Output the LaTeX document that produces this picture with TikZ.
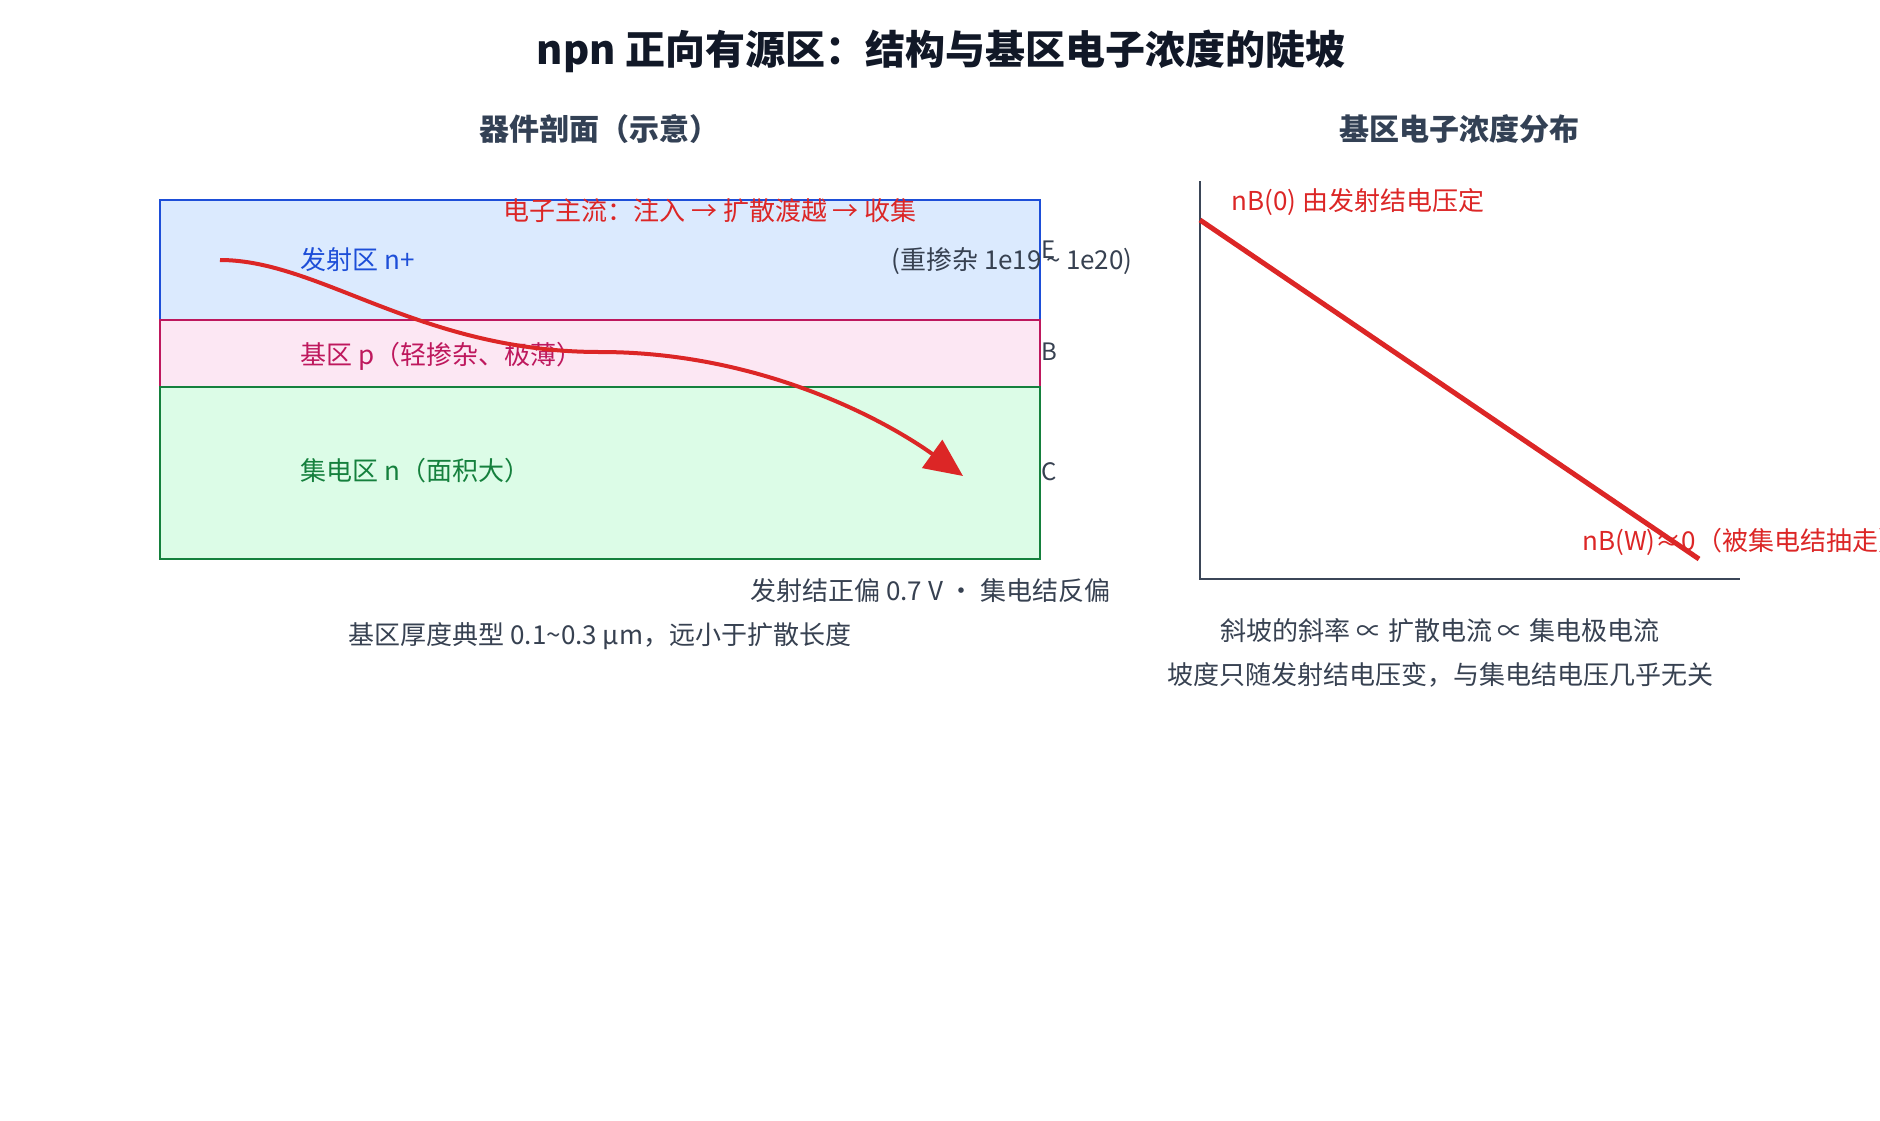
\documentclass[tikz,border=0pt]{standalone}
\usepackage{fontspec}
\setmainfont{Noto Sans CJK SC}
\usetikzlibrary{arrows.meta}
\definecolor{titlec}{HTML}{111827}
\definecolor{subc}{HTML}{334155}
\definecolor{txtc}{HTML}{374151}
\definecolor{embd}{HTML}{1D4ED8}
\definecolor{emfill}{HTML}{DBEAFE}
\definecolor{babd}{HTML}{BE185D}
\definecolor{bafill}{HTML}{FCE7F3}
\definecolor{cobd}{HTML}{15803D}
\definecolor{cofill}{HTML}{DCFCE7}
\definecolor{redc}{HTML}{DC2626}
\definecolor{axisc}{HTML}{3B4658}
\begin{document}
\begin{tikzpicture}[x=0.5pt,y=-0.5pt,
  lbl/.style={inner sep=0pt, font=\fontsize{13pt}{15pt}\selectfont},
  sub/.style={inner sep=0pt, font=\fontsize{15pt}{18pt}\selectfont\bfseries, text=subc, anchor=base},
  termlbl/.style={inner sep=0pt, font=\fontsize{12pt}{14pt}\selectfont, text=txtc, anchor=west},
  layer/.style={draw=#1, line width=1pt, minimum width=440pt, inner sep=0pt},
  flow/.style={draw=redc, line width=2pt, -{Triangle[length=19pt,width=17pt]}},
  axisline/.style={draw=axisc, line width=1.2pt},
  slope/.style={draw=redc, line width=2.5pt}]
\useasboundingbox (0,0) rectangle (1880,1120);
\fill[white] (0,0) rectangle (1880,1120);

% title and subtitles
\node[inner sep=0pt, anchor=base, text=titlec, font=\fontsize{20pt}{24pt}\selectfont\bfseries] (title) at (941,64) {npn 正向有源区：结构与基区电子浓度的陡坡};
\node[sub] (subL) at (599,140) {器件剖面（示意）};
\node[sub] (subR) at (1459,140) {基区电子浓度分布};

% layers
\node[layer=embd, fill=emfill, minimum height=60pt] (emitter) at (600,260) {};
\node[layer=babd, fill=bafill, minimum height=33.5pt] (base) at (600,353.5) {};
\node[layer=cobd, fill=cofill, minimum height=86pt] (collector) at (600,473) {};

% layer labels
\node[lbl, anchor=base west, text=embd] (emL) at (300,269) {发射区 n+};
\node[lbl, anchor=base, text=txtc] (emD) at (1012,269) {(重掺杂 1e19\hspace{2.5pt}\textasciitilde\hspace{2.5pt}1e20)};
\node[lbl, anchor=base west, text=babd] (baL) at (300,364) {基区 p（轻掺杂、极薄）};
\node[lbl, anchor=base west, text=cobd] (coL) at (300,480) {集电区 n（面积大）};

\node[termlbl] (tE) at (1041,250) {E};
\node[termlbl] (tB) at (1041,352) {B};
\node[termlbl] (tC) at (1041,472) {C};

% electron flow arrow
\coordinate (arrS) at (220,260);
\coordinate (arrE) at (963,476);
\draw[flow] (arrS) .. controls (320,260) and (420,352) .. (600,352) .. controls (760,352) and (885,420) .. (arrE);
\node[lbl, anchor=base, text=redc] (flowL) at (710,220) {电子主流：注入 → 扩散渡越 → 收集};

% notes below
\node[lbl, anchor=base east, text=txtc] (bias) at (1111,600) {发射结正偏 0.7 V · 集电结反偏};
\node[lbl, anchor=base, text=txtc] (thick) at (600,644) {基区厚度典型 0.1\textasciitilde 0.3 μm，远小于扩散长度};

% concentration chart
\coordinate (ax0) at (1200,579);
\coordinate (axY) at (1200,181);
\coordinate (axX) at (1740,579);
\draw[axisline] (axY) -- (ax0) -- (axX);
\coordinate (nb0) at (1200,220);
\coordinate (nbW) at (1699,559);
\node[lbl, anchor=base west, text=redc] (nb0L) at (1231,210) {nB(0) 由发射结电压定};
\node[lbl, anchor=base west, text=redc] (nbWL) at (1582,550) {nB(W)≈0（被集电结抽走）};
\draw[slope] (nb0) -- (nbW);

\node[lbl, anchor=base, text=txtc] (note1) at (1440,640) {斜坡的斜率 ∝ 扩散电流 ∝ 集电极电流};
\node[lbl, anchor=base, text=txtc] (note2) at (1440,684) {坡度只随发射结电压变，与集电结电压几乎无关};
\end{tikzpicture}
\end{document}
